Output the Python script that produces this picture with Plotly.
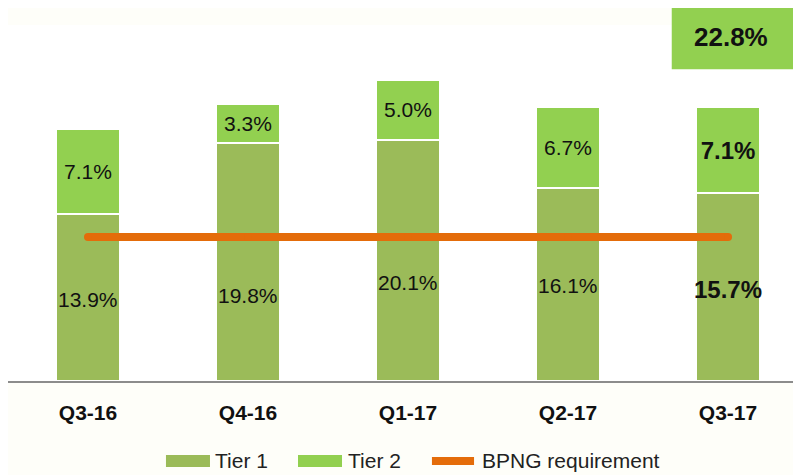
import plotly.graph_objects as go

quarters = ["Q3-16", "Q4-16", "Q1-17", "Q2-17", "Q3-17"]
tier1 = [13.9, 19.8, 20.1, 16.1, 15.7]
tier2 = [7.1, 3.3, 5.0, 6.7, 7.1]
bpng = [12.0, 12.0, 12.0, 12.0, 12.0]

# altura (en %) donde va la etiqueta de Tier 1, como en el original
pos_etq_t1 = [6.8, 7.1, 8.2, 8.0, 7.6]

COLOR_T1 = "#9BBB59"
COLOR_T2 = "#92D050"
COLOR_LINE = "#E46C0A"
COLOR_TXT = "#111111"
FONT = "Liberation Sans, Arial, sans-serif"


def etiquetas(vals):
    # la ultima barra va en negrita
    out = [f"{v:.1f}%" for v in vals]
    out[-1] = f"<b>{out[-1]}</b>"
    return out


tam = [21, 21, 21, 21, 24]

fig = go.Figure()

fig.add_trace(go.Bar(
    x=quarters, y=tier1, name="Tier 1",
    marker=dict(color=COLOR_T1, line=dict(color="white", width=2)),
    width=0.4, textposition="none",
))
fig.add_trace(go.Bar(
    x=quarters, y=tier2, name="Tier 2",
    marker=dict(color=COLOR_T2, line=dict(color="white", width=2)),
    text=etiquetas(tier2), textposition="inside", insidetextanchor="middle",
    textangle=0, constraintext="none",
    textfont=dict(family=FONT, size=tam, color=COLOR_TXT),
    width=0.4,
))
fig.add_trace(go.Scatter(
    x=quarters, y=bpng, name="BPNG requirement", mode="lines+markers",
    line=dict(color=COLOR_LINE, width=8),
    marker=dict(color=COLOR_LINE, size=8),
))

for q, y, t, s in zip(quarters, pos_etq_t1, etiquetas(tier1), tam):
    fig.add_annotation(x=q, y=y, text=t, showarrow=False,
                       xanchor="center", yanchor="middle",
                       font=dict(family=FONT, size=s, color=COLOR_TXT))

# recuadro con el total del ultimo trimestre
total = tier1[-1] + tier2[-1]
fig.add_shape(type="rect", xref="paper", yref="paper",
              x0=0.837, x1=1.0, y0=0.876, y1=1.053,
              fillcolor=COLOR_T2, line=dict(width=0), layer="above")
fig.add_annotation(xref="paper", yref="paper", x=0.912, y=0.966,
                   xanchor="center", yanchor="middle",
                   text=f"<b>{total:.1f}%</b>", showarrow=False,
                   font=dict(family=FONT, size=26, color=COLOR_TXT))

# leyenda dibujada a mano (muestras anchas como en el original)
ly = -0.2247
dy = 0.017
fig.add_shape(type="rect", xref="paper", yref="paper",
              x0=0.1992, x1=0.2547, y0=ly - dy, y1=ly + dy,
              fillcolor=COLOR_T1, line=dict(width=0))
fig.add_shape(type="rect", xref="paper", yref="paper",
              x0=0.3657, x1=0.4212, y0=ly - dy, y1=ly + dy,
              fillcolor=COLOR_T2, line=dict(width=0))
fig.add_shape(type="line", xref="paper", yref="paper",
              x0=0.5346, x1=0.5877, y0=ly, y1=ly,
              line=dict(color=COLOR_LINE, width=8))
for xl, txt in [(0.2585, "Tier 1"), (0.4262, "Tier 2"), (0.5952, "BPNG requirement")]:
    fig.add_annotation(xref="paper", yref="paper", x=xl, y=ly,
                       xanchor="left", yanchor="middle", text=txt,
                       showarrow=False,
                       font=dict(family=FONT, size=21, color="#222222"))

fig.update_layout(
    width=793, height=467,
    barmode="stack",
    paper_bgcolor="#FEFEF9",
    plot_bgcolor="white",
    margin=dict(l=0, r=0, t=17, b=94, autoexpand=False),
    font=dict(family=FONT, color="#222222"),
    showlegend=False,
    xaxis=dict(
        range=[-0.5, 4.456], automargin=False,
        showline=True, linecolor="#8C8C8C", linewidth=1.5,
        ticks="outside", ticklen=12, tickcolor="rgba(0,0,0,0)",
        tickfont=dict(family=FONT, size=21, color=COLOR_TXT),
        tickprefix="<b>", ticksuffix="</b>",
        showgrid=False, zeroline=False,
    ),
    yaxis=dict(
        range=[0, 29.67], automargin=False,
        showline=True, linecolor="#D9D9D9", linewidth=1,
        showticklabels=False, showgrid=False, zeroline=False,
    ),
)

fig.write_html("out.html")
